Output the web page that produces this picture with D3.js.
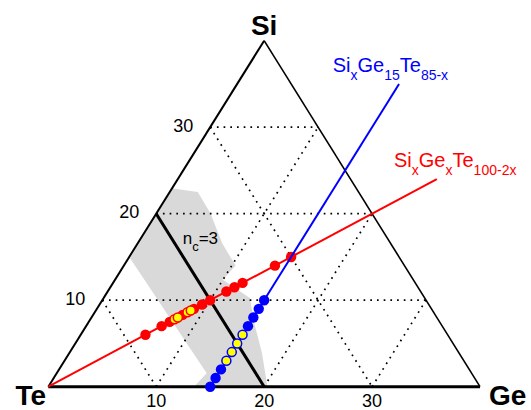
<!DOCTYPE html>
<html>
<head>
<meta charset="utf-8">
<script src="https://cdn.jsdelivr.net/npm/d3@7"></script>
<style>
  html, body { margin: 0; padding: 0; background: #fff; }
  svg { display: block; font-family: "Liberation Sans", Arial, Helvetica, sans-serif; }
</style>
</head>
<body>
<svg id="chart" width="531" height="410"></svg>
<script>
// Composition axes (at.%), the plotted triangle covers 0–40 % Si and Ge
const axisMax = 40;
const gridLevels = [10, 20, 30];
const siTickLabels = ["10", "20", "30"];
const geTickLabels = ["10", "20", "30"];

// Si_x Ge_x Te_100-2x series (x = at.% Si = at.% Ge)
const redX = [6, 7, 7.5, 8.3, 9, 9.5, 10, 11, 11.5, 12, 14, 15];
const redHighlightX = [7.8, 8.0, 8.6, 8.8];
const redLineX = [0, 24];

// Si_x Ge_15 Te_85-x series (x = at.% Si)
const blueGe = 15;
const blueSi = [0, 1, 2, 7, 8, 9, 10];
const blueHighlightSi = [3, 4, 5, 6];
const blueLineSi = [0, 35];

// n_c = 3 line: Si + Ge = 20
const ncSum = 20;

// Shaded region outline (Ge, Si pairs)
const bandGe = [0.1, 2.6, 5.0, 7.8, 10.35, 10.0, 13.55, 15.3, 17.85, 20.3, 13.5, 13.9, 0.15];
const bandSi = [22.9, 22.5, 20.05, 16.6, 14.0, 12.35, 10.25, 7.5, 3.9, 0, 0, 1.55, 14.85];

const svg = d3.select("#chart");

// horizontal position follows Ge + Si/2, vertical follows Si
const xScale = d3.scaleLinear().domain([0, axisMax]).range([48.3, 480]);
const yScale = d3.scaleLinear().domain([0, axisMax]).range([386.7, 40.7]);
const px = (ge, si) => xScale(ge + si / 2);
const py = (ge, si) => yScale(si);
const line = d3.line().x(d => px(d[0], d[1])).y(d => py(d[0], d[1]));
const closed = d3.line().x(d => px(d[0], d[1])).y(d => py(d[0], d[1])).curve(d3.curveLinearClosed);

// shaded band
svg.append("path")
  .attr("d", closed(bandGe.map((g, i) => [g, bandSi[i]])))
  .attr("fill", "#d9d9d9");

// dotted grid
const grid = svg.append("g")
  .attr("fill", "none").attr("stroke", "#000")
  .attr("stroke-width", 1.7).attr("stroke-dasharray", "1.7,5");
gridLevels.forEach(k => {
  grid.append("path").attr("d", line([[0, k], [axisMax - k, k]]));   // constant Si
  grid.append("path").attr("d", line([[k, 0], [k, axisMax - k]]));   // constant Ge
  grid.append("path").attr("d", line([[0, k], [k, 0]]));             // constant Te
});

// triangle edges
svg.append("path").attr("d", line([[0, 0], [0, axisMax]]))
  .attr("stroke", "#000").attr("stroke-width", 2).attr("fill", "none");
svg.append("path").attr("d", line([[0, axisMax], [axisMax, 0]]))
  .attr("stroke", "#000").attr("stroke-width", 1.6).attr("fill", "none");
svg.append("path").attr("d", line([[0, 0], [axisMax, 0]]))
  .attr("stroke", "#000").attr("stroke-width", 3).attr("fill", "none");

// n_c = 3 line
svg.append("path").attr("d", line([[0, ncSum], [ncSum, 0]]))
  .attr("stroke", "#000").attr("stroke-width", 3).attr("fill", "none");

// tick labels
svg.append("g").selectAll("text").data(gridLevels).join("text")
  .attr("x", d => px(0, d) - 17)
  .attr("y", d => py(0, d) + 4.5)
  .attr("text-anchor", "end").attr("font-size", 18)
  .text((d, i) => siTickLabels[i]);
svg.append("g").selectAll("text").data(gridLevels).join("text")
  .attr("x", d => px(d, 0))
  .attr("y", 407)
  .attr("text-anchor", "middle").attr("font-size", 18)
  .text((d, i) => geTickLabels[i]);

// corner labels
svg.append("text").attr("x", px(0, axisMax)).attr("y", 34.5)
  .attr("text-anchor", "middle").attr("font-size", 28).attr("font-weight", "bold").text("Si");
svg.append("text").attr("x", 46).attr("y", 405)
  .attr("text-anchor", "end").attr("font-size", 28).attr("font-weight", "bold").text("Te");
svg.append("text").attr("x", 489).attr("y", 405)
  .attr("text-anchor", "start").attr("font-size", 28).attr("font-weight", "bold").text("Ge");

// text with subscripts: parts are [string, isSubscript]
function subLabel(x, y, color, parts, size, subSize, shift) {
  const t = svg.append("text").attr("x", x).attr("y", y).attr("fill", color).attr("font-size", size);
  let down = false;
  parts.forEach(([s, sub]) => {
    const dy = sub ? (down ? 0 : shift) : (down ? -shift : 0);
    t.append("tspan").attr("font-size", sub ? subSize : size).attr("dy", dy).text(s);
    down = sub;
  });
  return t;
}

// n_c = 3
subLabel(182.7, 244, "#000", [["n", false], ["c", true], ["=3", false]], 17, 13, 6.5);

// Si_x Ge_x Te_100-2x
svg.append("path").attr("d", line(redLineX.map(v => [v, v])))
  .attr("stroke", "#ff0000").attr("stroke-width", 2).attr("fill", "none");
svg.selectAll("circle.red").data(redX).join("circle").attr("class", "red")
  .attr("cx", d => px(d, d)).attr("cy", d => py(d, d)).attr("r", 5.2)
  .attr("fill", "#ff0000");
svg.selectAll("circle.redhl").data(redHighlightX).join("circle").attr("class", "redhl")
  .attr("cx", d => px(d, d)).attr("cy", d => py(d, d)).attr("r", 4.5)
  .attr("fill", "#ffff00").attr("stroke", "#ff0000").attr("stroke-width", 1.5);

// Si_x Ge_15 Te_85-x
svg.append("path").attr("d", line(blueLineSi.map(s => [blueGe, s])))
  .attr("stroke", "#0000ff").attr("stroke-width", 2).attr("fill", "none");
svg.selectAll("circle.blue").data(blueSi).join("circle").attr("class", "blue")
  .attr("cx", d => px(blueGe, d)).attr("cy", d => py(blueGe, d)).attr("r", 5.2)
  .attr("fill", "#0000ff");
svg.selectAll("circle.bluehl").data(blueHighlightSi).join("circle").attr("class", "bluehl")
  .attr("cx", d => px(blueGe, d)).attr("cy", d => py(blueGe, d)).attr("r", 4.5)
  .attr("fill", "#ffff00").attr("stroke", "#0000ff").attr("stroke-width", 1.5);

// series labels
subLabel(332.7, 72.3, "#0000ff",
  [["Si", false], ["x", true], ["Ge", false], ["15", true], ["Te", false], ["85-x", true]], 20, 14, 8);
subLabel(394, 166.7, "#ff0000",
  [["Si", false], ["x", true], ["Ge", false], ["x", true], ["Te", false], ["100-2x", true]], 20, 14, 8);
</script>
</body>
</html>
